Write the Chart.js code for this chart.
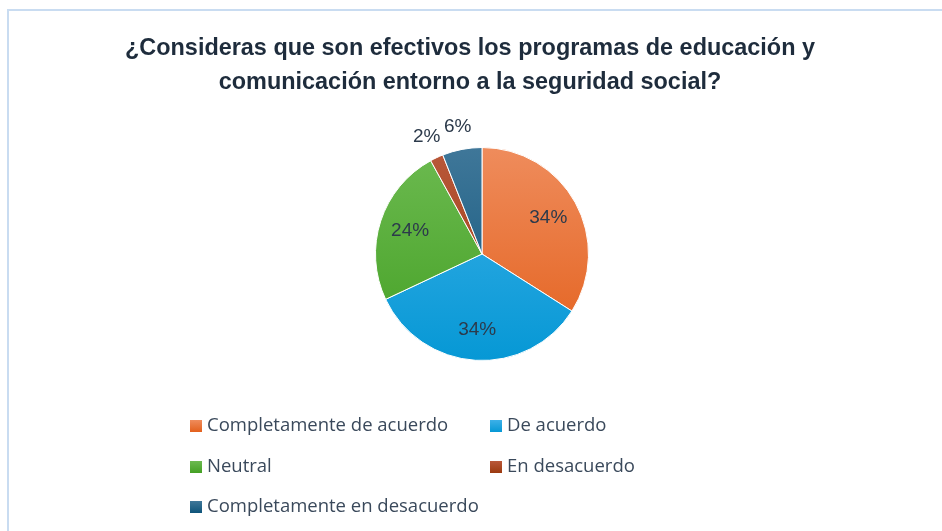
<!DOCTYPE html>
<html>
<head>
<meta charset="utf-8">
<script src="https://cdn.jsdelivr.net/npm/chart.js@4.4.1/dist/chart.umd.min.js"></script>
<style>
  html, body { margin: 0; padding: 0; background: #ffffff; }
  #wrap { position: relative; width: 942px; height: 531px; overflow: hidden; }
  #frame { position: absolute; left: 7px; top: 9px; right: -5px; bottom: -5px;
           border-left: 2px solid #c9dcf1; border-top: 2px solid #c9dcf1; }
  #pieChart { position: absolute; left: 0; top: 0; }
</style>
</head>
<body>
<div id="wrap">
  <div id="frame"></div>
  <canvas id="pieChart" width="942" height="531"></canvas>
</div>
<script>
const titleLines = [
    "¿Consideras que son efectivos los programas de educación y",
    "comunicación entorno a la seguridad social?"
];
const categories = [
    "Completamente de acuerdo",
    "De acuerdo",
    "Neutral",
    "En desacuerdo",
    "Completamente en desacuerdo"
];
const percentages = [34, 34, 24, 2, 6];
// light top / dark bottom of each slice gradient
const topColors = ["#ef8c5c", "#3db0e8", "#6cba50", "#b9583a", "#3f7799"];
const bottomColors = ["#e3601c", "#0698d5", "#44a024", "#9b3a10", "#0e547a"];

const textFont = "'Liberation Sans', Arial, sans-serif";
const legendFont = "'Open Sans', 'Noto Sans', sans-serif";

function sliceFill(context) {
    const chart = context.chart;
    const area = chart.chartArea;
    const i = context.dataIndex;
    if (!area) return bottomColors[i];
    const g = chart.ctx.createLinearGradient(0, area.top, 0, area.bottom);
    g.addColorStop(0, topColors[i]);
    g.addColorStop(1, bottomColors[i]);
    return g;
}

// title drawn by hand, squeezed sideways to look like a narrow font
const pageTitle = {
    id: "pageTitle",
    afterDraw(chart) {
        const ctx = chart.ctx;
        ctx.save();
        ctx.font = "bold 24px " + textFont;
        const squeeze = 690 / ctx.measureText(titleLines[0]).width;
        ctx.fillStyle = "#1e2c3c";
        ctx.textAlign = "center";
        ctx.textBaseline = "middle";
        ctx.translate(470, 0);
        ctx.scale(squeeze, 1);
        titleLines.forEach((line, i) => ctx.fillText(line, 0, 48 + i * 34));
        ctx.restore();
    }
};

const sliceLabels = {
    id: "sliceLabels",
    afterDatasetsDraw(chart) {
        const ctx = chart.ctx;
        const meta = chart.getDatasetMeta(0);
        ctx.save();
        ctx.font = "19px " + textFont;
        ctx.fillStyle = "#2c3a4b";
        ctx.textAlign = "center";
        ctx.textBaseline = "middle";
        meta.data.forEach((arc, i) => {
            const p = arc.getProps(["x", "y", "startAngle", "endAngle", "outerRadius"], true);
            const mid = (p.startAngle + p.endAngle) / 2;
            const small = percentages[i] < 10;
            const dist = small ? p.outerRadius * 1.22 : p.outerRadius * 0.71;
            const x = p.x + Math.cos(mid) * dist;
            const y = p.y + Math.sin(mid) * dist;
            ctx.fillText(percentages[i] + "%", x, y);
        });
        ctx.restore();
    }
};

const gridLegend = {
    id: "gridLegend",
    afterDraw(chart) {
        const ctx = chart.ctx;
        const colX = [190, 490];
        const rowY = [426, 467, 507];
        ctx.save();
        ctx.font = "18.5px " + legendFont;
        ctx.textBaseline = "middle";
        ctx.textAlign = "left";
        categories.forEach((name, i) => {
            const x = colX[i % 2];
            const y = rowY[Math.floor(i / 2)];
            const g = ctx.createLinearGradient(0, y - 6, 0, y + 6);
            g.addColorStop(0, topColors[i]);
            g.addColorStop(1, bottomColors[i]);
            ctx.fillStyle = g;
            ctx.fillRect(x, y - 6, 12, 12);
            ctx.fillStyle = "#3a495b";
            ctx.fillText(name, x + 17, y);
        });
        ctx.restore();
    }
};

new Chart(document.getElementById("pieChart").getContext("2d"), {
    type: "pie",
    data: {
        labels: categories,
        datasets: [{
            data: percentages,
            backgroundColor: sliceFill,
            borderColor: "#ffffff",
            borderWidth: 1
        }]
    },
    options: {
        responsive: false,
        animation: false,
        layout: { padding: { left: 375, right: 353, top: 147, bottom: 170 } },
        plugins: {
            legend: { display: false },
            tooltip: { enabled: false },
            title: { display: false }
        }
    },
    plugins: [sliceLabels, gridLegend, pageTitle]
});
</script>
</body>
</html>
